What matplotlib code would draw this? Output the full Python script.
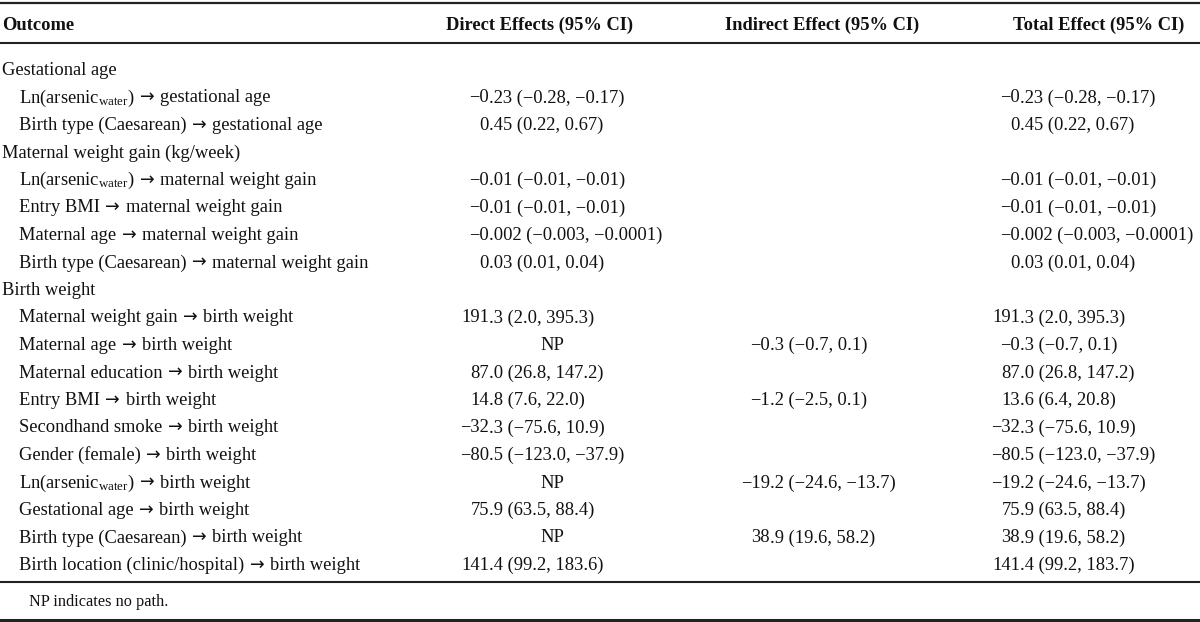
import matplotlib
matplotlib.use("Agg")
import matplotlib.pyplot as plt

plt.rcParams['font.family'] = ['Liberation Serif', 'DejaVu Serif']
plt.rcParams['mathtext.fontset'] = 'custom'
plt.rcParams['mathtext.rm'] = 'Liberation Serif'
plt.rcParams['mathtext.it'] = 'Liberation Serif:italic'
plt.rcParams['mathtext.bf'] = 'Liberation Serif:bold'

# ---------------- data ----------------
header_labels = ["Outcome", "Direct Effects (95% CI)", "Indirect Effect (95% CI)", "Total Effect (95% CI)"]

ASW = r"Ln(arsenic$_{\mathrm{water}}$)"
row_labels = [
    "Gestational age",
    ASW + " → gestational age",
    "Birth type (Caesarean) → gestational age",
    "Maternal weight gain (kg/week)",
    ASW + " → maternal weight gain",
    "Entry BMI → maternal weight gain",
    "Maternal age → maternal weight gain",
    "Birth type (Caesarean) → maternal weight gain",
    "Birth weight",
    "Maternal weight gain → birth weight",
    "Maternal age → birth weight",
    "Maternal education → birth weight",
    "Entry BMI → birth weight",
    "Secondhand smoke → birth weight",
    "Gender (female) → birth weight",
    ASW + " → birth weight",
    "Gestational age → birth weight",
    "Birth type (Caesarean) → birth weight",
    "Birth location (clinic/hospital) → birth weight",
]
row_is_group = [True, False, False, True, False, False, False, False, True,
                False, False, False, False, False, False, False, False, False, False]

direct = [
    "", "−0.23 (−0.28, −0.17)", "0.45 (0.22, 0.67)",
    "", "−0.01 (−0.01, −0.01)", "−0.01 (−0.01, −0.01)", "−0.002 (−0.003, −0.0001)", "0.03 (0.01, 0.04)",
    "", "191.3 (2.0, 395.3)", "NP", "87.0 (26.8, 147.2)", "14.8 (7.6, 22.0)", "−32.3 (−75.6, 10.9)",
    "−80.5 (−123.0, −37.9)", "NP", "75.9 (63.5, 88.4)", "NP", "141.4 (99.2, 183.6)",
]
indirect = [
    "", "", "",
    "", "", "", "", "",
    "", "", "−0.3 (−0.7, 0.1)", "", "−1.2 (−2.5, 0.1)", "",
    "", "−19.2 (−24.6, −13.7)", "", "38.9 (19.6, 58.2)", "",
]
total = [
    "", "−0.23 (−0.28, −0.17)", "0.45 (0.22, 0.67)",
    "", "−0.01 (−0.01, −0.01)", "−0.01 (−0.01, −0.01)", "−0.002 (−0.003, −0.0001)", "0.03 (0.01, 0.04)",
    "", "191.3 (2.0, 395.3)", "−0.3 (−0.7, 0.1)", "87.0 (26.8, 147.2)", "13.6 (6.4, 20.8)", "−32.3 (−75.6, 10.9)",
    "−80.5 (−123.0, −37.9)", "−19.2 (−24.6, −13.7)", "75.9 (63.5, 88.4)", "38.9 (19.6, 58.2)", "141.4 (99.2, 183.7)",
]
footnote = "NP indicates no path."

# ---------------- layout ----------------
W, H = 1200, 622
fig = plt.figure(figsize=(W / 100, H / 100), dpi=100)
ax = fig.add_axes([0, 0, 1, 1])
ax.set_xlim(0, W)
ax.set_ylim(H, 0)
ax.axis('off')
renderer = fig.canvas.get_renderer()

FS = 13.3
TXT = '#111111'
LINE = '#222222'

# rules
ax.axhline(3, color=LINE, lw=1.6)
ax.axhline(43, color=LINE, lw=1.5)
ax.axhline(582, color=LINE, lw=1.5)
ax.axhline(620, color=LINE, lw=2.2)

BASE = 6  # baseline offset from visual row centre

# header
hy = 24 + BASE
ax.text(2, hy, header_labels[0], ha='left', va='baseline', fontsize=FS, fontweight='bold', color=TXT)
ax.text(540, hy, header_labels[1], ha='center', va='baseline', fontsize=FS, fontweight='bold', color=TXT)
ax.text(822, hy, header_labels[2], ha='center', va='baseline', fontsize=FS, fontweight='bold', color=TXT)
ax.text(1184, hy, header_labels[3], ha='right', va='baseline', fontsize=FS, fontweight='bold', color=TXT)

col_dec = [489, 770, 1020]   # decimal alignment positions
col_ctr = [552, 815, 1090]   # centre for non-numeric entries


def put_value(ci, y, s):
    if not s:
        return
    if '.' not in s:
        ax.text(col_ctr[ci], y, s, ha='center', va='baseline', fontsize=FS, color=TXT)
        return
    i = s.index('.')
    ax.text(col_dec[ci], y, s[:i], ha='right', va='baseline', fontsize=FS, color=TXT)
    ax.text(col_dec[ci], y, s[i:], ha='left', va='baseline', fontsize=FS, color=TXT)


def right_edge(t):
    return t.get_window_extent(renderer).x1


GAP = 5.5


def put_label(x, y, s):
    parts = s.split(' → ')
    t = ax.text(x, y, parts[0], ha='left', va='baseline', fontsize=FS, color=TXT)
    for p in parts[1:]:
        xa = right_edge(t) + GAP
        a = ax.text(xa, y - 0.5, '→', ha='left', va='baseline', fontsize=FS * 0.95,
                    family='DejaVu Sans', color=TXT)
        xb = right_edge(a) + GAP
        t = ax.text(xb, y, p, ha='left', va='baseline', fontsize=FS, color=TXT)


y0, dy = 69, 27.5
for r, lab in enumerate(row_labels):
    y = y0 + dy * r + BASE
    x = 2 if row_is_group[r] else 19
    put_label(x, y, lab)
    put_value(0, y, direct[r])
    put_value(1, y, indirect[r])
    put_value(2, y, total[r])

ax.text(29, 601 + 5, footnote, ha='left', va='baseline', fontsize=11.7, color=TXT)

fig.savefig('out.png', dpi=100, facecolor='white')
